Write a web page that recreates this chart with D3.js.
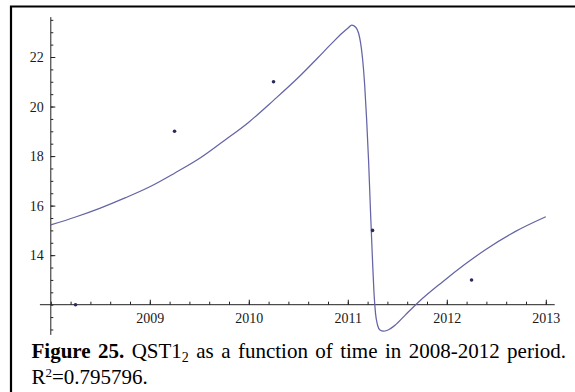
<!DOCTYPE html>
<html>
<head>
<meta charset="utf-8">
<script src="https://cdn.jsdelivr.net/npm/d3@7"></script>
<style>
body{margin:0;background:#fff;}
svg{display:block;}
</style>
</head>
<body>
<div id="chart"></div>
<script>
/*
 * QST1_2 fit vs time
 */

// observed values
var pointYears = [2008.25, 2009.25, 2010.25, 2011.25, 2012.25];
var pointValues = [12, 19, 21, 15, 13];

// fitted curve
var fitYears = [2008.00, 2008.25, 2008.50, 2008.75, 2009.00, 2009.25, 2009.50, 2009.75, 2010.00, 2010.25,
    2010.50, 2010.70, 2010.85, 2010.95, 2011.00, 2011.04, 2011.08, 2011.11, 2011.13, 2011.15,
    2011.17, 2011.19, 2011.21, 2011.23, 2011.25, 2011.265, 2011.28, 2011.30, 2011.325, 2011.36,
    2011.40, 2011.48, 2011.58, 2011.71, 2011.95, 2012.18, 2012.39, 2012.69, 2013.00];
var fitValues = [15.22, 15.54, 15.90, 16.31, 16.76, 17.31, 17.90, 18.62, 19.37, 20.25,
    21.17, 21.98, 22.60, 22.99, 23.16, 23.29, 23.20, 22.95, 22.55, 21.90,
    20.90, 19.50, 17.80, 15.70, 13.75, 12.45, 11.65, 11.18, 10.98, 10.93,
    10.97, 11.18, 11.58, 12.09, 12.90, 13.62, 14.22, 14.95, 15.55];

var xMajorTicks = [2009, 2010, 2011, 2012, 2013];
var yMajorTicks = [14, 16, 18, 20, 22];

var captionLabel = 'Figure 25.';
var captionMain = ' QST1';
var captionSub = '2';
var captionRest = ' as a function of time in 2008-2012 period.';
var fitNote = ['R', '2', '=0.795796.'];

var W = 575, H = 392;
var svg = d3.select('#chart').append('svg').attr('width', W).attr('height', H);

var x = d3.scaleLinear().domain([2008, 2013]).range([50.8, 545.8]);
var y = d3.scaleLinear().domain([12, 22]).range([304.7, 57]);

// frame (only top and left edges show)
svg.append('path')
    .attr('d', 'M11,' + H + 'V6.5H' + W)
    .attr('fill', 'none')
    .attr('stroke', '#000')
    .attr('stroke-width', 2.2);

var axisColor = '#222';

// axis lines cross at (2008, 12)
svg.append('line')
    .attr('x1', x(2007.89)).attr('x2', x(2013.09))
    .attr('y1', y(12)).attr('y2', y(12))
    .attr('stroke', axisColor);
svg.append('line')
    .attr('x1', x(2008)).attr('x2', x(2008))
    .attr('y1', y(10.78)).attr('y2', y(23.61))
    .attr('stroke', axisColor);

var xMinor = d3.range(0, 26).map(function(i){ return +(2008 + i * 0.2).toFixed(1); });
var yMinor = d3.range(0, 26).map(function(i){ return 11 + i * 0.5; });

function styleAxis(g){
    g.select('.domain').remove();
    g.selectAll('line').attr('stroke', axisColor);
    g.selectAll('text')
        .attr('fill', '#1a1a1a')
        .style('font-family', '"Liberation Serif", "Times New Roman", serif')
        .style('font-size', '14px');
}

svg.append('g')
    .attr('transform', 'translate(0,' + y(12) + ')')
    .call(d3.axisBottom(x).tickValues(xMinor).tickSize(-3).tickSizeOuter(0).tickFormat(''))
    .call(styleAxis);
svg.append('g')
    .attr('transform', 'translate(0,' + y(12) + ')')
    .call(d3.axisBottom(x).tickValues(xMajorTicks).tickSize(-5).tickSizeOuter(0).tickPadding(8).tickFormat(d3.format('d')))
    .call(styleAxis);

svg.append('g')
    .attr('transform', 'translate(' + x(2008) + ',0)')
    .call(d3.axisLeft(y).tickValues(yMinor).tickSize(-2.5).tickSizeOuter(0).tickFormat(''))
    .call(styleAxis);
svg.append('g')
    .attr('transform', 'translate(' + x(2008) + ',0)')
    .call(d3.axisLeft(y).tickValues(yMajorTicks).tickSize(-4.5).tickSizeOuter(0).tickPadding(7).tickFormat(d3.format('d')))
    .call(styleAxis);

// fitted curve
var fit = fitYears.map(function(t, i){ return [t, fitValues[i]]; });
var line = d3.line()
    .x(function(d){ return x(d[0]); })
    .y(function(d){ return y(d[1]); })
    .curve(d3.curveMonotoneX);

svg.append('path')
    .datum(fit)
    .attr('d', line)
    .attr('fill', 'none')
    .attr('stroke', '#6464a6')
    .attr('stroke-width', 1.25);

// observed points
svg.append('g')
    .selectAll('circle')
    .data(pointYears)
    .enter()
    .append('circle')
    .attr('cx', function(d){ return x(d); })
    .attr('cy', function(d, i){ return y(pointValues[i]); })
    .attr('r', 1.8)
    .attr('fill', '#2b2b5a');

// caption
var serif = '"Liberation Serif", "Times New Roman", serif';
var cap = svg.append('text')
    .attr('x', 31.5)
    .attr('y', 358)
    .style('font-family', serif)
    .style('font-size', '21px')
    .attr('fill', '#000');
cap.append('tspan').style('font-weight', 'bold').text(captionLabel);
cap.append('tspan').text(captionMain);
cap.append('tspan').style('font-size', '14px').attr('dy', 4).text(captionSub);
cap.append('tspan').attr('dy', -4).text(captionRest);

// justify first line to the right edge
var natural = cap.node().getComputedTextLength();
var spaces = (captionLabel + captionMain + captionSub + captionRest).split(' ').length - 1;
cap.style('word-spacing', ((566 - 31.5 - natural) / spaces) + 'px');

var note = svg.append('text')
    .attr('x', 31.5)
    .attr('y', 383.5)
    .style('font-family', serif)
    .style('font-size', '21px')
    .attr('fill', '#000');
note.append('tspan').text(fitNote[0]);
note.append('tspan').style('font-size', '13px').attr('dy', -7).text(fitNote[1]);
note.append('tspan').attr('dy', 7).text(fitNote[2]);
</script>
</body>
</html>
